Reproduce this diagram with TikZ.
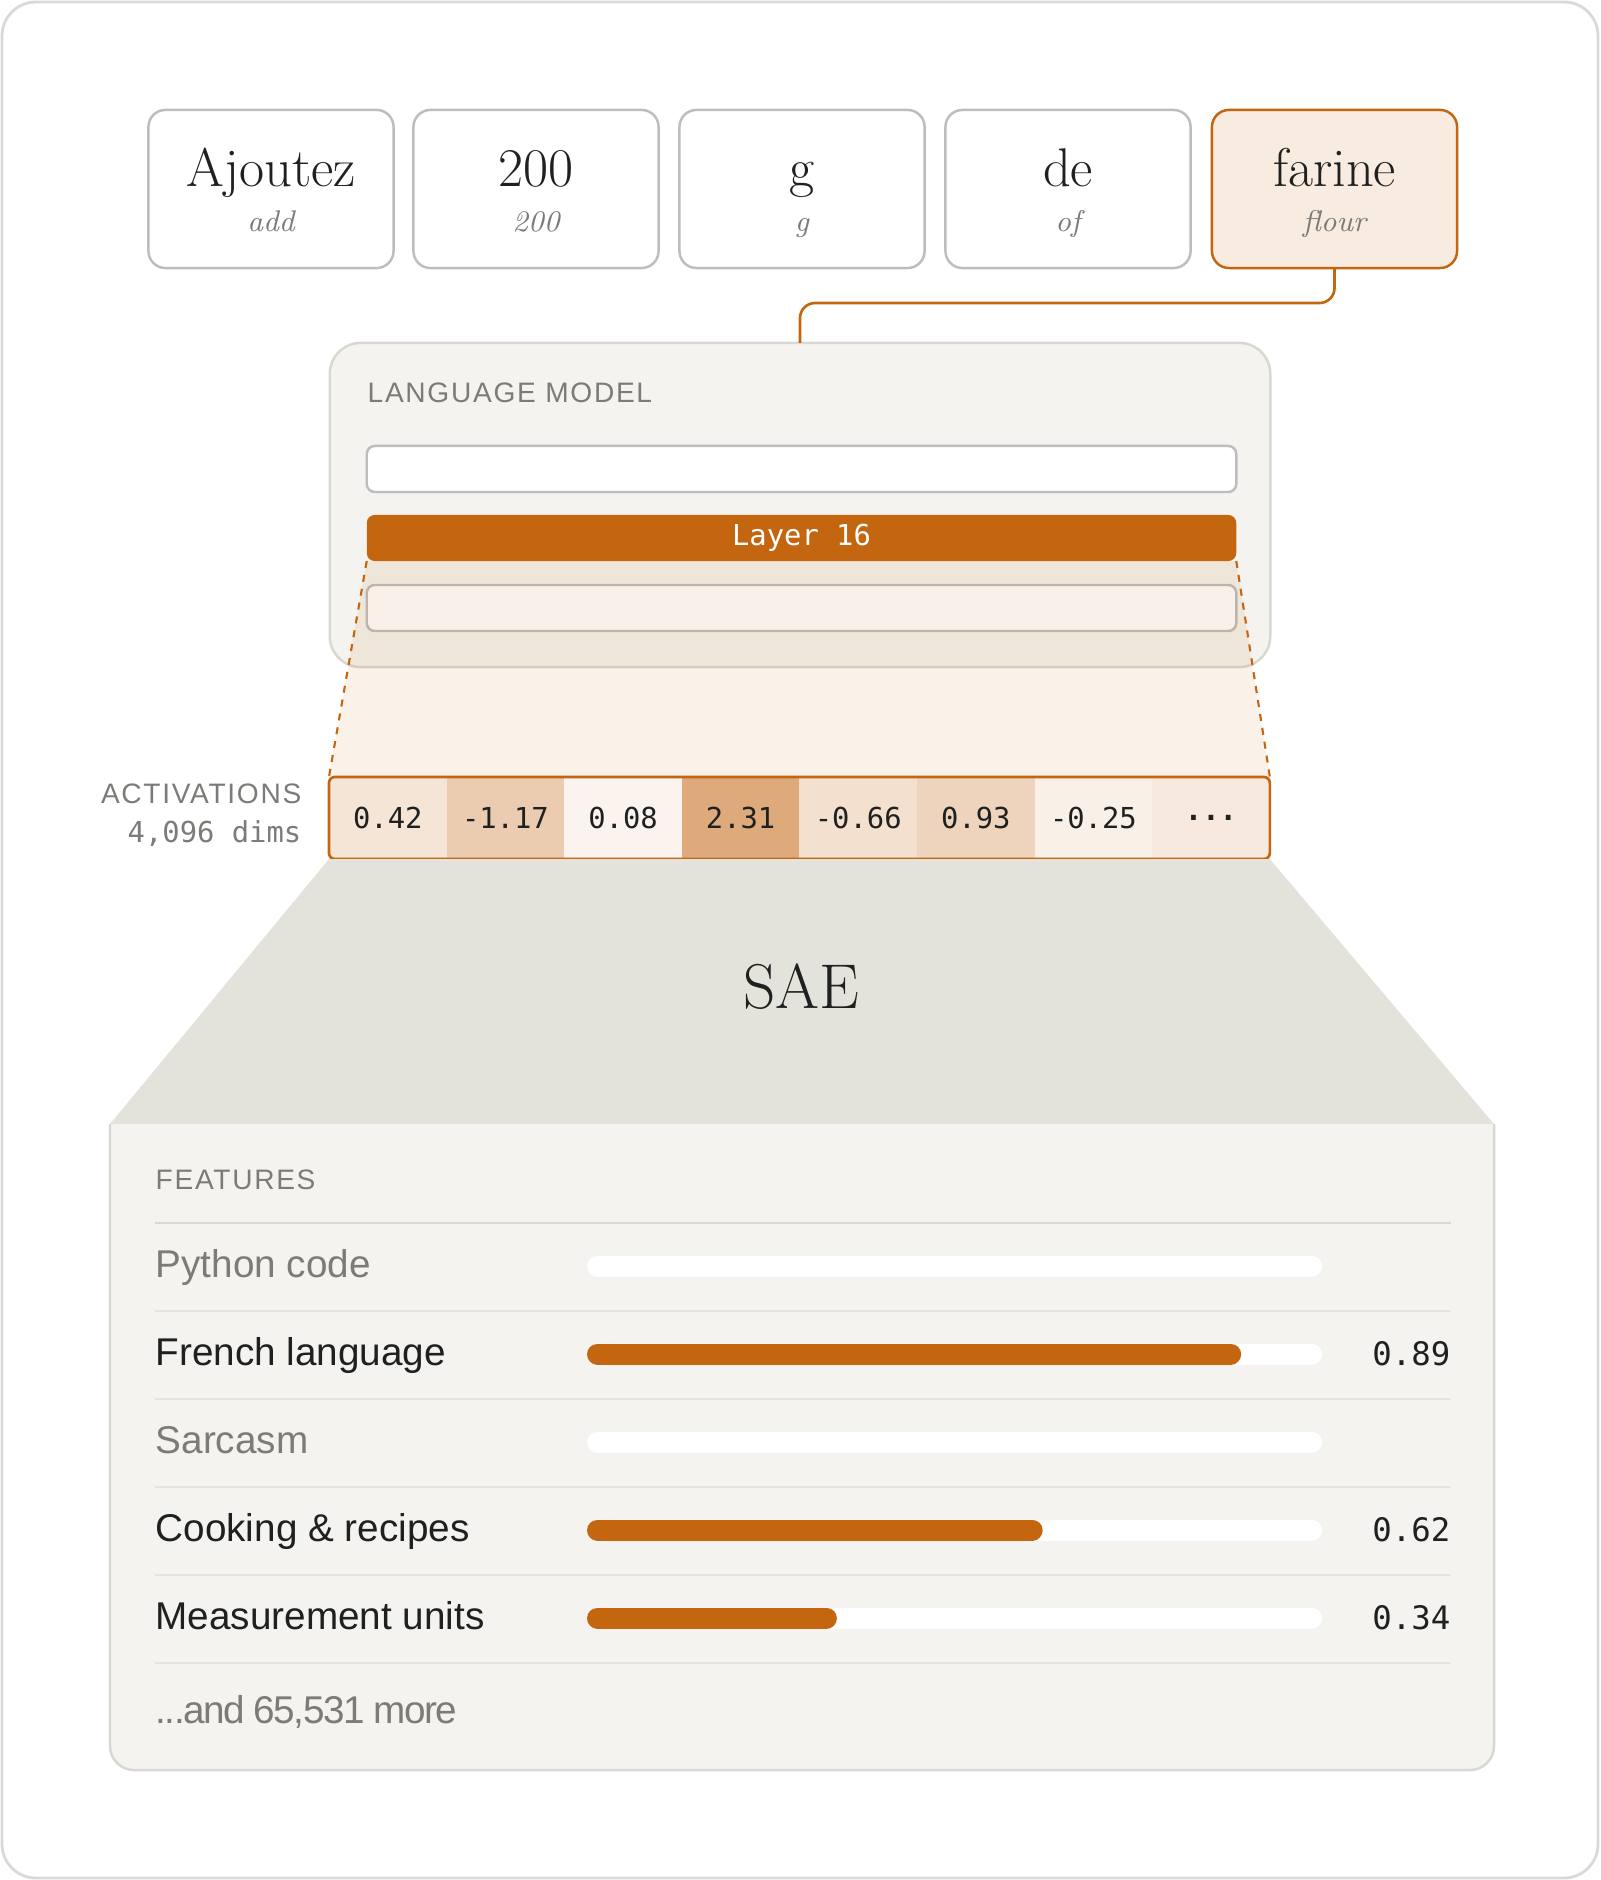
\documentclass[tikz,border=0pt]{standalone}
\usepackage{fontspec}
\setsansfont{Liberation Sans}
\setmonofont{DejaVu Sans Mono}
\usepackage{tikz}
\definecolor{rust}{HTML}{C4650F}
\definecolor{ink}{HTML}{1F2121}
\definecolor{mute}{HTML}{7C7B77}
\definecolor{paper}{HTML}{F4F3EF}
\definecolor{rim}{HTML}{D9D7D2}
\definecolor{tokrim}{HTML}{BDBDBD}
\definecolor{saegray}{HTML}{E4E3DB}
\definecolor{flourbg}{HTML}{F8EBE0}
\newcommand{\capsfont}{\sffamily\fontsize{8}{10}\selectfont\addfontfeatures{LetterSpace=6}}
\newcommand{\numfont}{\ttfamily\fontsize{8.2}{10}\selectfont}
\newcommand{\more}{\textbf{...}}
\tikzset{
  tok/.style={draw=tokrim, line width=0.7pt, fill=white, rounded corners=0.17cm,
    minimum width=2.45cm, minimum height=1.58cm, inner sep=0pt, outer sep=0pt},
  word/.style={anchor=base, inner sep=0pt, text=ink, font=\fontsize{15.5}{18}\selectfont},
  gloss/.style={anchor=base, inner sep=0pt, text=mute, font=\fontsize{8.5}{10}\selectfont\itshape},
  link/.style={draw=rust, line width=0.75pt, rounded corners=0.15cm},
  bar/.style={draw=tokrim, line width=0.7pt, fill=white, rounded corners=0.08cm,
    minimum width=8.69cm, minimum height=0.46cm, inner sep=0pt, outer sep=0pt},
  cell/.style={minimum width=1.176cm, minimum height=0.82cm, inner sep=0pt, outer sep=0pt,
    text=ink, font=\numfont},
  caps/.style={inner sep=0pt, text=mute, font=\capsfont},
  flabel/.style={anchor=base west, inner sep=0pt, font=\sffamily\fontsize{11}{13}\selectfont},
  fval/.style={anchor=base east, inner sep=0pt, text=ink, font=\ttfamily\fontsize{9.2}{11}\selectfont},
  rule/.style={draw=rim!70, line width=0.6pt},
  track/.style={draw=white, line width=0.21cm, line cap=round},
  level/.style={draw=rust, line width=0.21cm, line cap=round}
}

\begin{document}
\begin{tikzpicture}[x=0.01cm, y=-0.01cm]
  \useasboundingbox (0,0) rectangle (1600,1880);%
  \draw[line width=0.8pt, draw=black!15, rounded corners=0.34cm] (2,2) rectangle (1598,1878);%

  % tokens
  \foreach \w/\g/\x/\n in {Ajoutez/add/271/ajoutez, 200/200/536/deux, g/g/802/g, de/of/1068/de} {
    \node[tok] (\n) at (\x,189) {};%
    \node[word] (\n-w) at (\x,187) {\w};%
    \node[gloss] (\n-g) at (\x,232) {\g};%
  }
  \node[tok, draw=rust, fill=flourbg] (farine) at (1334.5,189) {};%
  \node[word] (farine-w) at (1334.5,187) {farine};%
  \node[gloss] (farine-g) at (1334.5,232) {flour};%

  % language model
  \node[draw=rim, line width=0.7pt, fill=paper, rounded corners=0.31cm, minimum width=9.4cm,
    minimum height=3.24cm, inner sep=0pt, outer sep=0pt] (lm) at (800,505) {};%
  \draw[link] (farine.south) -- ++(0,35) -| (lm.north);%
  \node[caps, anchor=base west] (lmlabel) at (367,403) {LANGUAGE MODEL};%
  \node[bar] (l15) at (801.5,469) {};%
  \node[bar, draw=none, fill=rust, text=white, font=\numfont] (l16) at (801.5,538) {Layer 16};%
  \node[bar] (l17) at (801.5,608) {};%

  % activations
  \foreach \v/\s [count=\i] in {0.42/17, -1.17/33, 0.08/7, 2.31/55, -0.66/20, 0.93/28, -0.25/10, \more/14}
    \node[cell, fill=rust!\s] (a\i) at ({329+117.6*(\i-0.5)},818) {\v};
  \fill[rust, opacity=0.09] (l16.south west) -- (l16.south east) -- (a8.north east) -- (a1.north west) -- cycle;%
  \draw[rust, line width=0.6pt, dash pattern=on 2pt off 2pt] (l16.south west) -- (a1.north west);%
  \draw[rust, line width=0.6pt, dash pattern=on 2pt off 2pt] (l16.south east) -- (a8.north east);%
  \draw[rust, line width=0.75pt, rounded corners=0.06cm] (a1.north west) rectangle (a8.south east);%
  \node[caps, anchor=base east] (actlabel) at (302,804) {ACTIVATIONS};%
  \node[anchor=base east, inner sep=0pt, text=mute, font=\numfont] (dims) at (302,842) {4,096 dims};%

  % sae
  \coordinate (fl) at (110,1124);%
  \coordinate (fr) at (1494,1124);%
  \fill[saegray] (a1.south west) -- (a8.south east) -- (fr) -- (fl) -- cycle;%
  \node[anchor=base, inner sep=0pt, text=ink, font=\fontsize{18}{22}\selectfont] (sae) at (801,1008) {SAE};%

  % features
  \filldraw[fill=paper, draw=rim, line width=0.7pt, rounded corners=0.24cm] (fl) -- (110,1770) -- (1494,1770) -- (fr);%
  \node[caps, anchor=base west] (feathead) at (155,1189) {FEATURES};%
  \draw[rule, draw=rim] (155,1223) -- (1451,1223);%
  \foreach \lab/\v/\y/\c [count=\i] in {Python code/0/1266/mute, French language/0.89/1354/ink,
      Sarcasm/0/1442/mute, Cooking \& recipes/0.62/1530/ink, Measurement units/0.34/1618/ink} {
    \node[flabel, text=\c] (feat\i) at (155,\y+11) {\lab};%
    \draw[track] (597.5,\y) -- (1311.5,\y);%
    \ifdim\v pt>0pt
      \draw[level] (597.5,\y) -- ({587+735*\v-10.5},\y);%
      \node[fval] (val\i) at (1451,\y+11) {\v};%
    \fi
    \draw[rule] (155,\y+45) -- (1451,\y+45);%
  }
  \node[flabel, text=mute, font=\sffamily\fontsize{11}{13}\selectfont\addfontfeatures{LetterSpace=-4}] (rest) at (155,1723) {...and 65,531 more};%
\end{tikzpicture}
\end{document}
